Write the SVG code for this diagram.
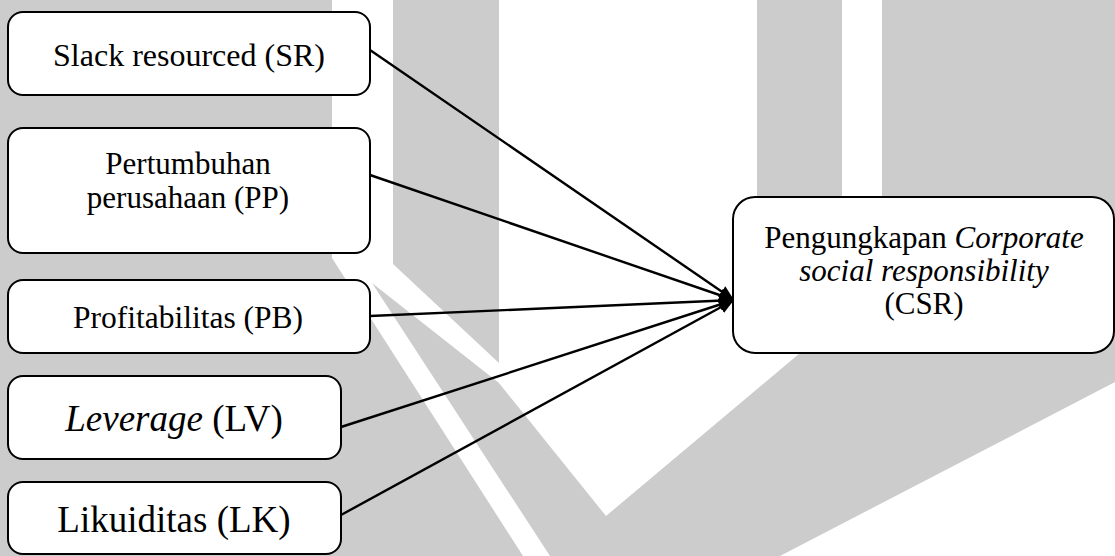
<svg xmlns="http://www.w3.org/2000/svg" width="1115" height="556" viewBox="0 0 1115 556">
<style>
.wm{fill:#cccccc;stroke:none}
.box{fill:#ffffff;stroke:#000000;stroke-width:2}
.t{font-family:"Liberation Serif","Times New Roman",serif;fill:#000000;text-anchor:middle}
.con{stroke:#000000;stroke-width:2.4;fill:none;marker-end:url(#arr)}
</style>
<defs>
<marker id="arr" markerUnits="userSpaceOnUse" markerWidth="15" markerHeight="13" refX="15" refY="6.5" orient="auto">
<path d="M0,0 L15,6.5 L0,13 z" fill="#000000"/>
</marker>
</defs>
<rect width="1115" height="556" fill="#ffffff"/>
<g id="watermark">
<polygon class="wm" points="0,0 332,0 332,258 523,556 0,556"/>
<polygon class="wm" points="393,0 499,0 499,363 393,264"/>
<polygon class="wm" points="372,283 499,383 606,516 800,353 800,300 1115,300 1115,382 780,556 550,556"/>
<rect class="wm" x="757" y="0" width="85" height="320"/>
<rect class="wm" x="882" y="0" width="233" height="320"/>
</g>
<g id="connectors">
<line class="con" x1="370" y1="50" x2="734" y2="300"/>
<line class="con" x1="370" y1="175" x2="734" y2="300"/>
<line class="con" x1="370" y1="316" x2="734" y2="300"/>
<line class="con" x1="341" y1="427" x2="734" y2="300"/>
<line class="con" x1="341" y1="515" x2="734" y2="300"/>
</g>
<g id="node-sr">
<rect class="box" x="8" y="12" width="362" height="83" rx="15"/>
<text class="t" x="189" y="66" font-size="32">Slack resourced (SR)</text>
</g>
<g id="node-pp">
<rect class="box" x="8" y="128" width="362" height="125" rx="15"/>
<text class="t" x="188" y="174" font-size="31">Pertumbuhan</text>
<text class="t" x="188" y="208" font-size="31">perusahaan (PP)</text>
</g>
<g id="node-pb">
<rect class="box" x="8" y="280" width="362" height="73" rx="15"/>
<text class="t" x="188" y="328" font-size="31.5">Profitabilitas (PB)</text>
</g>
<g id="node-lv">
<rect class="box" x="8" y="376" width="333" height="83" rx="15"/>
<text class="t" x="174" y="431" font-size="37"><tspan font-style="italic">Leverage</tspan> (LV)</text>
</g>
<g id="node-lk">
<rect class="box" x="8" y="482" width="333" height="72" rx="15"/>
<text class="t" x="174" y="532" font-size="37">Likuiditas (LK)</text>
</g>
<g id="node-csr">
<rect class="box" x="733" y="197" width="381" height="156" rx="22"/>
<text class="t" x="924" y="248" font-size="31">Pengungkapan <tspan font-style="italic">Corporate</tspan></text>
<text class="t" x="924" y="281" font-size="31" font-style="italic">social responsibility</text>
<text class="t" x="924" y="314" font-size="31">(CSR)</text>
</g>
</svg>
